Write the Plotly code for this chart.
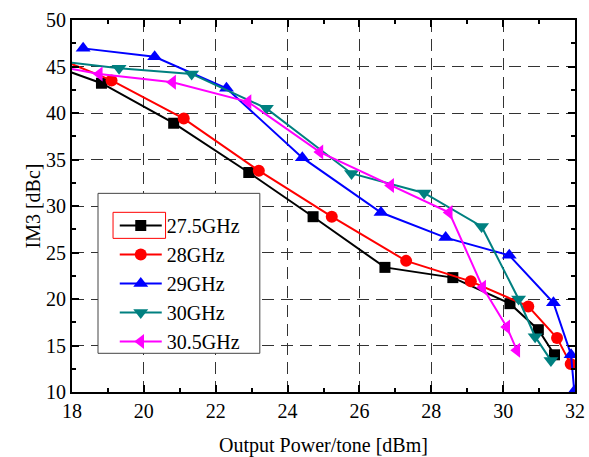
import plotly.graph_objects as go

# ---- data ----
x_275 = [17.6, 18.82, 20.83, 22.92, 24.71, 26.71, 28.6, 30.19, 30.98, 31.43]
y_275 = [44.9, 43.2, 38.9, 33.6, 28.85, 23.4, 22.3, 19.5, 16.7, 14.0]

x_28 = [17.6, 19.1, 21.11, 23.2, 25.23, 27.3, 29.1, 30.7, 31.5, 31.88]
y_28 = [45.9, 43.5, 39.4, 33.8, 28.85, 24.1, 21.9, 19.2, 15.8, 13.0]

x_29 = [18.31, 20.3, 22.3, 24.41, 26.6, 28.4, 30.17, 31.4, 31.89, 31.98]
y_29 = [46.95, 46.05, 42.65, 35.2, 29.3, 26.6, 24.7, 19.6, 14.0, 10.1]

x_30 = [17.6, 19.31, 21.33, 23.41, 25.78, 27.8, 29.4, 30.43, 30.89, 31.33]
y_30 = [45.6, 44.8, 44.2, 40.5, 33.5, 31.4, 27.8, 20.0, 15.95, 13.4]

x_305 = [17.6, 18.76, 20.8, 22.9, 24.9, 26.87, 28.5, 29.43, 30.1, 30.38]
y_305 = [45.0, 44.2, 43.3, 41.2, 35.8, 32.2, 29.3, 21.25, 17.0, 14.5]

names = ["27.5GHz", "28GHz", "29GHz", "30GHz", "30.5GHz"]
colors = ["#000000", "#ff0000", "#0000ff", "#008080", "#ff00ff"]
symbols = ["square", "circle", "triangle-up", "triangle-down", "triangle-left"]
sizes = [11, 12, 13, 13, 13]
series = [(x_275, y_275), (x_28, y_28), (x_29, y_29), (x_30, y_30), (x_305, y_305)]

x_ticks = [18, 20, 22, 24, 26, 28, 30, 32]
y_ticks = [10, 15, 20, 25, 30, 35, 40, 45, 50]

FONT = "Liberation Serif"

fig = go.Figure()
for (xs, ys), n, c, s, sz in zip(series, names, colors, symbols, sizes):
    fig.add_trace(go.Scatter(
        x=xs, y=ys, name=n, mode="lines+markers",
        line=dict(color=c, width=2),
        marker=dict(symbol=s, size=sz, color=c),
    ))

axis_common = dict(
    showline=True, linecolor="black", linewidth=2, mirror="ticks",
    ticks="inside", ticklen=7, tickwidth=1.5, tickcolor="black",
    showgrid=True, gridcolor="#333333", gridwidth=1, griddash="12px,7px",
    zeroline=False, automargin=False,
    tickfont=dict(family=FONT, size=20, color="black"),
    title_font=dict(family=FONT, size=20, color="black"),
)

fig.update_xaxes(
    range=[18, 32], tickvals=x_ticks, ticktext=[str(v) for v in x_ticks],
    title_text="Output Power/tone [dBm]", title_standoff=24,
    minor=dict(dtick=1, ticks="inside", ticklen=4, tickcolor="black", showgrid=False),
    **axis_common,
)
fig.update_yaxes(
    range=[10, 50], tickvals=y_ticks, ticktext=[str(v) for v in y_ticks],
    title_text="IM3 [dBc]", title_standoff=0,
    minor=dict(dtick=2.5, ticks="inside", ticklen=4, tickcolor="black", showgrid=False),
    **axis_common,
)

fig.update_layout(
    width=589, height=457,
    margin=dict(l=72, r=14, t=20, b=65, autoexpand=False),
    plot_bgcolor="white", paper_bgcolor="white",
    font=dict(family=FONT, size=20, color="black"),
    legend=dict(
        x=0.085, y=0.5, xanchor="left", yanchor="top",
        bgcolor="rgba(0,0,0,0)", borderwidth=0,
        font=dict(family=FONT, size=20, color="black"),
        tracegroupgap=0, itemwidth=42,
    ),
    showlegend=True,
)

# legend frame (opaque white box)
fig.add_shape(type="rect", xref="paper", yref="paper", layer="above",
              x0=0.0517, x1=0.3734, y0=0.104, y1=0.534,
              line=dict(color="#444444", width=1), fillcolor="white")
# red selection rectangle around the first legend symbol
fig.add_shape(type="rect", xref="paper", yref="paper", layer="above",
              x0=0.0816, x1=0.186, y0=0.413, y1=0.483,
              line=dict(color="red", width=1), fillcolor="rgba(0,0,0,0)")

fig.write_html("out.html")
